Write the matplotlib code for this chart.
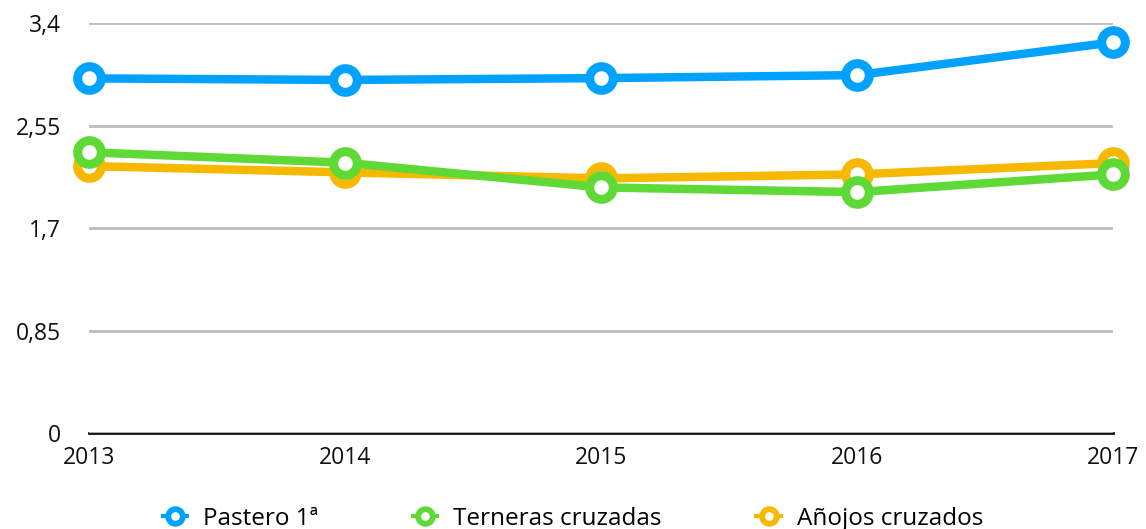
import matplotlib
matplotlib.use("Agg")
import matplotlib.pyplot as plt
from matplotlib.lines import Line2D

years = ["2013", "2014", "2015", "2016", "2017"]
pastero = [2.943, 2.93, 2.945, 2.97, 3.242]
terneras = [2.33, 2.243, 2.038, 1.999, 2.146]
anojos = [2.215, 2.163, 2.113, 2.146, 2.24]
yticks = [0, 0.85, 1.7, 2.55, 3.4]
ytick_labels = ["0", "0,85", "1,7", "2,55", "3,4"]
labels = ["Pastero 1ª", "Terneras cruzadas", "Añojos cruzados"]
colors = ["#00a2ff", "#5fd935", "#f7b800"]

plt.rcParams['font.family'] = ['Open Sans', 'DejaVu Sans']

fig = plt.figure(figsize=(11.46, 5.29), dpi=100)
ax = fig.add_axes([89/1146, 1-433/529, (1113-89)/1146, (433-23.3)/529])

x = list(range(len(years)))
data = [pastero, terneras, anojos]
zorders = [3, 2, 1]
for vals, col, z in zip(data, colors, zorders):
    ax.plot(x, vals, color=col, lw=6.1, marker='o', markersize=17,
            markerfacecolor='white', markeredgecolor=col, markeredgewidth=6.5,
            zorder=z, clip_on=False, solid_capstyle='butt')

ax.set_xlim(0, len(years)-1)
ax.set_ylim(0, 3.4)
ax.set_yticks(yticks)
ax.set_yticklabels(ytick_labels)
ax.set_xticks(x)
ax.set_xticklabels(years)
ax.tick_params(length=0, labelsize=16.5, colors='#111111')
ax.tick_params(axis='y', pad=20)
ax.tick_params(axis='x', pad=9)
ax.grid(axis='y', color='#bdbdbd', lw=2)
ax.set_axisbelow(True)
for s in ['top', 'right', 'left']:
    ax.spines[s].set_visible(False)
ax.spines['bottom'].set_color('#111111')
ax.spines['bottom'].set_linewidth(2)
ax.spines['bottom'].set_zorder(0.5)

leg_handles = [Line2D([0], [0], color=c, lw=3, marker='o', markersize=10.5,
                      markerfacecolor='white', markeredgecolor=c, markeredgewidth=4.2)
               for c in colors]
fig.legend(leg_handles, labels, loc='lower center', bbox_to_anchor=(0.5, -0.045),
           ncol=3, frameon=False, fontsize=17.5, handlelength=1.0, columnspacing=3.9,
           handletextpad=0.65)

fig.savefig("out.png", dpi=100)
